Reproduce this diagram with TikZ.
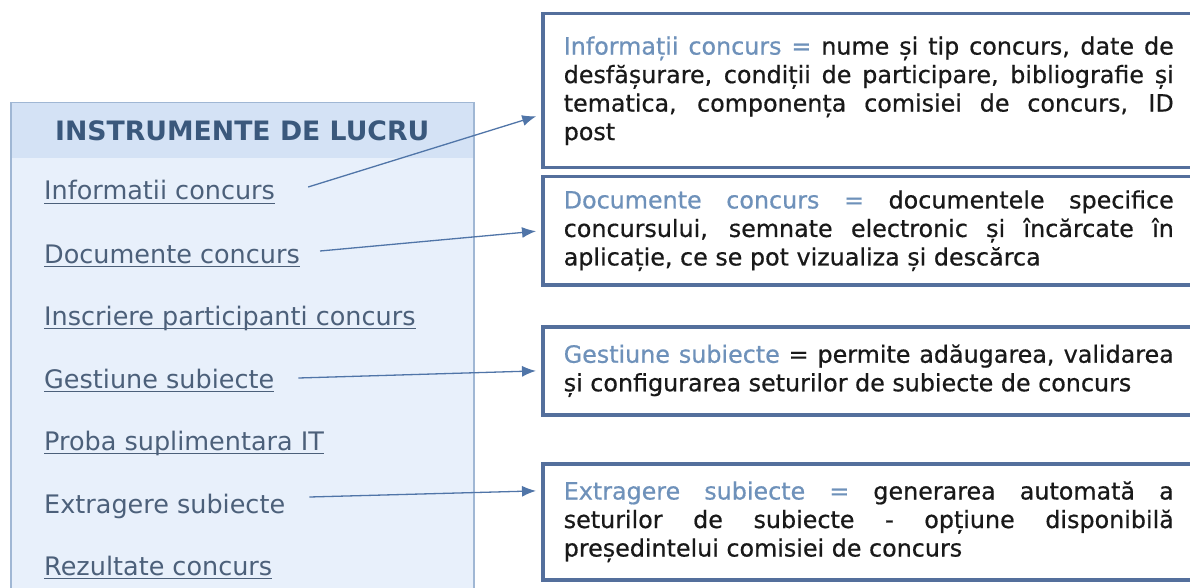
\documentclass[tikz,border=0pt]{standalone}
\usepackage{fontspec}
\setmainfont{DejaVu Sans}
\newfontfamily\descfont{DejaVu Sans}[FakeBold=0.6]
\usepackage{xcolor}
\usepackage{tikz}
\usetikzlibrary{arrows.meta,positioning}
\definecolor{panelfill}{RGB}{232,240,251}
\definecolor{panelhead}{RGB}{212,226,245}
\definecolor{paneledge}{RGB}{160,183,212}
\definecolor{headtext}{RGB}{58,88,124}
\definecolor{linktext}{RGB}{76,96,122}
\definecolor{boxedge}{RGB}{84,111,156}
\definecolor{termblue}{RGB}{110,145,186}
\definecolor{arrowblue}{RGB}{80,117,168}

\begin{document}
\begin{tikzpicture}[
  x=1pt, y=-1pt,
  panel/.style={draw=paneledge, line width=1.5pt, fill=panelfill, anchor=north west, minimum width=463pt, minimum height=500pt, inner sep=0pt},
  head/.style={fill=panelhead, anchor=north, minimum width=461pt, minimum height=55pt, inner sep=0pt, text=headtext, font=\fontsize{26.7}{30}\selectfont\bfseries},
  item/.style={anchor=base west, inner sep=0pt, text=linktext, font=\fontsize{25.5}{30}\selectfont},
  ul/.style={draw=linktext, line width=1.1pt},
  desc/.style={draw=boxedge, line width=3.5pt, fill=white, anchor=north west, text width=610pt, inner xsep=21pt, inner ysep=0pt, align=justify, text=black!90, font=\descfont\fontsize{23.8}{28.5}\selectfont},
  arr/.style={draw=arrowblue, line width=1.3pt, -{Latex[length=14pt,width=11pt]}, shorten >=5pt},
]
\clip (0,0) rectangle (1190,588);
\fill[white] (0,0) rectangle (1190,588);

\node[panel] (panel) at (10,102) {};
\node[head] (head) at ([yshift=-0.75pt]panel.north) {INSTRUMENTE DE LUCRU};

\node[item] (info) at (44,200) {Informatii concurs};
\node[item] (docs) at (44,263) {Documente concurs};
\node[item] (inscr) at (44,325) {Inscriere participanti concurs};
\node[item] (gest) at (44,388) {Gestiune subiecte};
\node[item] (proba) at (44,450) {Proba suplimentara IT};
\node[item] (extr) at (44,513) {Extragere subiecte};
\node[item] (rez) at (44,575) {Rezultate concurs};
\foreach \n in {info,docs,inscr,gest,proba,rez}
  \draw[ul] ([yshift=-3.5pt]\n.base west) -- ([yshift=-3.5pt]\n.base east);

\node[desc, minimum height=154pt] (dinfo) at (541,12) {\textcolor{termblue}{Informații concurs =} nume și tip concurs, date de\linebreak desfășurare, condiții de participare, bibliografie și\linebreak tematica, componența comisiei de concurs, ID\linebreak post};
\node[desc, minimum height=108pt] (ddocs) at (541,175) {\textcolor{termblue}{Documente concurs =} documentele specifice\linebreak concursului, semnate electronic și încărcate în\linebreak aplicație, ce se pot vizualiza și descărca};
\node[desc, minimum height=88pt] (dgest) at (541,325) {\textcolor{termblue}{Gestiune subiecte} = permite adăugarea, validarea\linebreak și configurarea seturilor de subiecte de concurs};
\node[desc, minimum height=116pt] (dextr) at (541,462) {\textcolor{termblue}{Extragere subiecte =} generarea automată a\linebreak seturilor de subiecte - opțiune disponibilă\linebreak președintelui comisiei de concurs};

\draw[arr] ([shift={(33pt,13pt)}]info.base east) -- ([yshift=-24pt]dinfo.west);
\draw[arr] ([shift={(20pt,12pt)}]docs.base east) -- (ddocs.west);
\draw[arr] ([shift={(24pt,10pt)}]gest.base east) -- (dgest.west);
\draw[arr] ([shift={(24pt,16pt)}]extr.base east) -- ([yshift=31pt]dextr.west);
\end{tikzpicture}
\end{document}
